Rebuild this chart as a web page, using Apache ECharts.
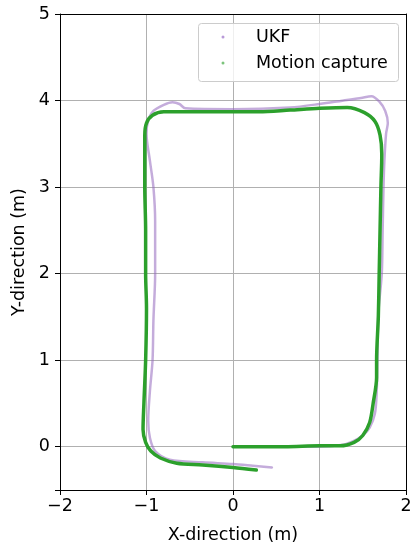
<!DOCTYPE html>
<html>
<head>
<meta charset="utf-8">
<script src="https://cdn.jsdelivr.net/npm/echarts@6/dist/echarts.min.js"></script>
<style>html,body{margin:0;padding:0;background:#fff}#c{width:411px;height:544px}</style>
</head>
<body>
<div id="c"></div>
<script>
// Motion capture trajectory (m)
const mocapX = [0.00, 0.60, 1.00, 1.24, 1.40, 1.50, 1.58, 1.62, 1.66, 1.66, 1.68, 1.69, 1.70, 1.71, 1.72, 1.70, 1.64, 1.52, 1.32, 1.00, 0.66, 0.30, 0.00, -0.40, -0.80, -0.93, -1.00, -1.02, -1.02, -1.01, -1.01, -1.00, -1.01, -1.03, -1.04, -1.01, -0.95, -0.84, -0.65, -0.35, 0.00, 0.27];
const mocapY = [0.00, 0.00, 0.01, 0.01, 0.05, 0.13, 0.28, 0.50, 0.80, 1.00, 1.50, 2.00, 2.50, 3.00, 3.38, 3.60, 3.76, 3.86, 3.92, 3.91, 3.89, 3.87, 3.87, 3.87, 3.87, 3.83, 3.74, 3.60, 3.00, 2.50, 2.00, 1.60, 1.00, 0.50, 0.20, 0.05, -0.05, -0.13, -0.19, -0.21, -0.24, -0.27];
// UKF estimate trajectory (m)
const ukfX = [0.00, 0.60, 1.00, 1.25, 1.38, 1.50, 1.58, 1.64, 1.66, 1.67, 1.68, 1.72, 1.73, 1.74, 1.75, 1.77, 1.79, 1.76, 1.69, 1.60, 1.48, 1.00, 0.66, 0.00, -0.55, -0.62, -0.70, -0.80, -0.92, -0.98, -1.00, -0.96, -0.92, -0.90, -0.90, -0.92, -0.93, -0.96, -0.98, -0.96, -0.90, -0.73, -0.35, 0.00, 0.23, 0.45];
const ukfY = [0.00, 0.00, 0.00, 0.02, 0.06, 0.13, 0.22, 0.38, 0.60, 1.00, 1.54, 2.00, 2.50, 3.00, 3.30, 3.62, 3.74, 3.88, 3.99, 4.05, 4.03, 3.96, 3.92, 3.90, 3.91, 3.96, 3.98, 3.95, 3.88, 3.77, 3.62, 3.30, 3.00, 2.60, 2.00, 1.46, 1.00, 0.65, 0.30, 0.10, -0.05, -0.15, -0.18, -0.20, -0.22, -0.24];
const seriesNames = ['UKF', 'Motion capture'];
const xTicks = [-2, -1, 0, 1, 2];
const yTicks = [0, 1, 2, 3, 4, 5];

const zip = (xs, ys) => xs.map((x, i) => [x, ys[i]]);
const FONT = 'DejaVu Sans';
const FS = 17.5;
const fmt = v => (v < 0 ? '\u2212' + Math.abs(v) : String(v));

const chart = echarts.init(document.getElementById('c'), null, {renderer: 'canvas'});
chart.setOption({
  animation: false,
  backgroundColor: '#fff',
  grid: {left: 60, right: 5, top: 14, bottom: 54, containLabel: false, outerBoundsMode: 'none'},
  xAxis: [{
    type: 'value', min: -2, max: 2, interval: 1,
    name: 'X-direction (m)', nameLocation: 'middle', nameGap: 36,
    nameTextStyle: {fontFamily: FONT, fontSize: FS, color: '#000'},
    axisLine: {show: true, onZero: false, lineStyle: {color: '#000', width: 1}},
    axisTick: {show: true, length: 5, lineStyle: {color: '#000'}},
    axisLabel: {fontFamily: FONT, fontSize: FS, color: '#000', margin: 7,
      formatter: v => xTicks.includes(v) ? fmt(v) : ''},
    splitLine: {show: true, lineStyle: {color: '#b0b0b0', width: 1}}
  }, {
    type: 'value', position: 'top', min: -2, max: 2, interval: 1,
    axisLine: {show: true, onZero: false, lineStyle: {color: '#000', width: 1}},
    axisTick: {show: false}, axisLabel: {show: false}, splitLine: {show: false}
  }],
  yAxis: [{
    type: 'value', min: -0.5, max: 5, splitNumber: 5,
    name: 'Y-direction (m)', nameLocation: 'middle', nameGap: 30,
    nameTextStyle: {fontFamily: FONT, fontSize: FS, color: '#000'},
    axisLine: {show: true, onZero: false, lineStyle: {color: '#000', width: 1}},
    axisTick: {show: true, length: 5, lineStyle: {color: '#000'}},
    axisLabel: {fontFamily: FONT, fontSize: FS, color: '#000', margin: 10,
      formatter: v => yTicks.includes(v) ? fmt(v) : ''},
    splitLine: {show: true, lineStyle: {color: '#b0b0b0', width: 1}}
  }, {
    type: 'value', position: 'right', min: -0.5, max: 5,
    axisLine: {show: true, onZero: false, lineStyle: {color: '#000', width: 1}},
    axisTick: {show: false}, axisLabel: {show: false}, splitLine: {show: false}
  }],
  series: [{
    name: seriesNames[0], type: 'line', data: zip(ukfX, ukfY),
    showSymbol: false, smooth: 0.3,
    lineStyle: {color: '#9467bd', width: 2.5, opacity: 0.55, cap: 'round', join: 'round'},
    z: 3
  }, {
    name: seriesNames[1], type: 'line', data: zip(mocapX, mocapY),
    showSymbol: false, smooth: 0.3,
    lineStyle: {color: '#2ca02c', width: 3.5, cap: 'round', join: 'round'},
    z: 4
  }],
  graphic: [
    {type: 'rect', left: 198, top: 23, shape: {width: 200, height: 58, r: 3},
      style: {fill: 'rgba(255,255,255,0.8)', stroke: '#cccccc', lineWidth: 1}, z: 10},
    {type: 'circle', shape: {cx: 223, cy: 37, r: 1.5}, style: {fill: '#b99ad8'}, z: 11},
    {type: 'circle', shape: {cx: 223, cy: 63, r: 1.5}, style: {fill: '#7cc47c'}, z: 11},
    {type: 'text', x: 256, y: 37, style: {text: seriesNames[0], font: FS + 'px "DejaVu Sans"', fill: '#000', verticalAlign: 'middle'}, z: 11},
    {type: 'text', x: 256, y: 63, style: {text: seriesNames[1], font: FS + 'px "DejaVu Sans"', fill: '#000', verticalAlign: 'middle'}, z: 11}
  ]
});
</script>
</body>
</html>
